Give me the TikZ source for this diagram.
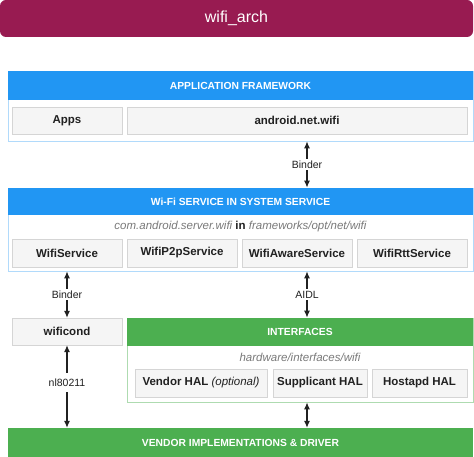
\documentclass[tikz,border=0pt]{standalone}
\usepackage{fontspec}
\setmainfont{Liberation Sans}
\usepackage{xcolor}
\usetikzlibrary{positioning, arrows.meta}
\definecolor{titlered}{HTML}{981B51}
\definecolor{matblue}{HTML}{2196F3}
\definecolor{matgreen}{HTML}{4CAF50}
\definecolor{boxgray}{HTML}{F5F5F5}
\definecolor{linegray}{HTML}{D5D5D5}
\definecolor{subgray}{HTML}{7A7A7A}
\definecolor{textdark}{HTML}{212121}

\begin{document}
\begin{tikzpicture}[x=1pt, y=-1pt,
  titlebox/.style={fill=titlered, rounded corners=6pt, text=white, minimum width=473pt, minimum height=37pt, font=\fontsize{16}{18}\selectfont},
  frame/.style={draw=#1, line width=0.8pt, fill=white, minimum width=465pt},
  header/.style={fill=#1, text=white, font=\bfseries\fontsize{10.3}{12}\selectfont, minimum width=465pt},
  comp/.style={draw=linegray, fill=boxgray, text=textdark, font=\bfseries\fontsize{11.5}{13}\selectfont, minimum height=27pt},
  subtitle/.style={text=subgray, font=\itshape\fontsize{11.5}{13}\selectfont},
  link/.style={{Latex[length=7pt,width=6pt]}-{Latex[length=7pt,width=6pt]}, line width=1.1pt, textdark},
  linklabel/.style={fill=white, text=textdark, font=\fontsize{10.5}{12}\selectfont, inner sep=2pt}]
\useasboundingbox (0,0) rectangle (474,457);

% title
\node [titlebox] (title) at (236.5,18.5) {wifi\_arch};

% application framework
\node [frame=matblue!35, minimum height=70pt] (appframe) at (240.5,106) {};
\node [header=matblue, minimum height=29pt] (apphead) at (240.5,85.5) {APPLICATION FRAMEWORK};
\node [comp, minimum width=110pt] (apps) at (67,120.5) {Apps};
\node [comp, minimum width=340pt] (netwifi) at (297,120.5) {android.net.wifi};

% wifi service
\node [frame=matblue!35, minimum height=83pt] (wifisvc) at (240.5,229.5) {};
\node [header=matblue, minimum height=27pt] (svchead) at (240.5,201.5) {Wi-Fi SERVICE IN SYSTEM SERVICE};
\node [subtitle] (svcpath) at (240.5,227) {com.android.server.wifi \textcolor{textdark}{\upshape\bfseries in} frameworks/opt/net/wifi};
\node [comp, minimum width=110pt, minimum height=28pt] (wifiservice) at (67,253) {WifiService};
\node [comp, minimum width=110pt, minimum height=28pt] (p2pservice) at (182,253) {WifiP2pService};
\node [comp, minimum width=110pt, minimum height=28pt] (awareservice) at (297,253) {WifiAwareService};
\node [comp, minimum width=110pt, minimum height=28pt] (rttservice) at (412,253) {WifiRttService};

% wificond
\node [comp, minimum width=110pt] (wificond) at (67,331.5) {wificond};

% interfaces
\node [frame=matgreen!45, minimum width=346pt, minimum height=84pt] (ifaces) at (300,360) {};
\node [header=matgreen, minimum width=346pt, minimum height=28pt] (ifhead) at (300,332) {INTERFACES};
\node [subtitle] (ifpath) at (300,357) {hardware/interfaces/wifi};
\node [comp, minimum width=132pt, minimum height=28pt] (vendorhal) at (201,383) {Vendor HAL \mdseries\itshape(optional)};
\node [comp, minimum width=94pt, minimum height=28pt] (supphal) at (320,383) {Supplicant HAL};
\node [comp, minimum width=95pt, minimum height=28pt] (hostapdhal) at (419.5,383) {Hostapd HAL};

% vendor implementations
\node [header=matgreen, minimum height=29pt] (vendor) at (240.5,442.5) {VENDOR IMPLEMENTATIONS \& DRIVER};

% connectors
\coordinate (leftx) at (67,0);
\coordinate (midx) at (307,0);
\draw [link] (appframe.south -| midx) -- node [linklabel] (binder1) {Binder} (wifisvc.north -| midx);
\draw [link] (wifisvc.south -| leftx) -- node [linklabel] (binder2) {Binder} (wificond.north);
\draw [link] (wifisvc.south -| midx) -- node [linklabel] (aidl) {AIDL} (ifaces.north -| midx);
\draw [link] (wificond.south) -- node [linklabel, pos=0.45, inner sep=6pt] (nl) {nl80211} (vendor.north -| leftx);
\draw [link] (ifaces.south -| midx) -- (vendor.north -| midx);
\end{tikzpicture}
\end{document}
